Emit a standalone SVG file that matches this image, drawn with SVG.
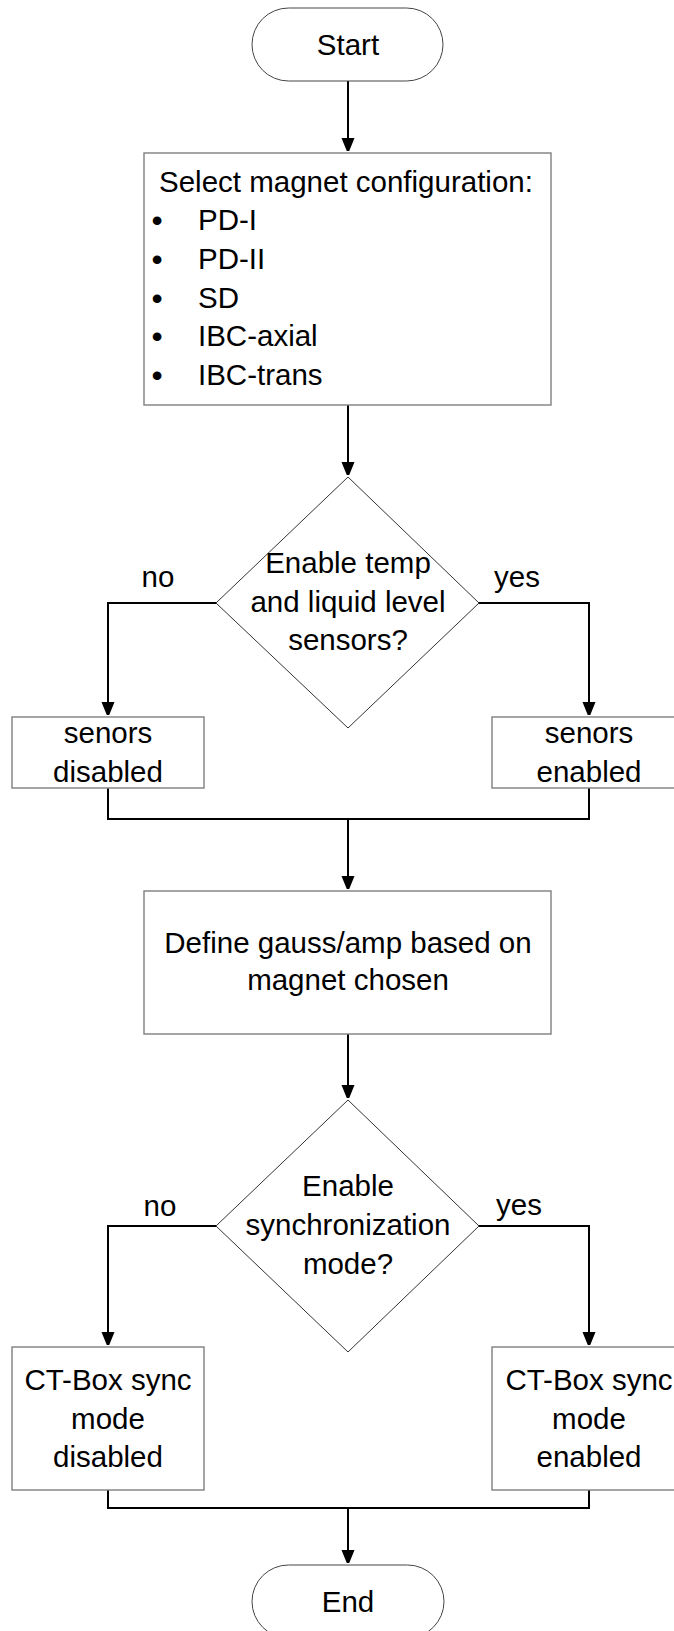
<svg xmlns="http://www.w3.org/2000/svg" width="674" height="1631" viewBox="0 0 674 1631">
<defs>
<marker id="arr" viewBox="0 0 13 16" refX="13" refY="6.5" markerWidth="13" markerHeight="16" markerUnits="userSpaceOnUse" orient="auto">
<path d="M0,0 L16,6.5 L0,13 Z" fill="#000"/>
</marker>
<style>
text{font-family:"Liberation Sans",Arial,sans-serif;font-size:29.5px;fill:#000}
.c{text-anchor:middle}
.b{font-size:32px}
.term{fill:#fff;stroke:#444;stroke-width:1}
.box{fill:#fff;stroke:#7f7f7f;stroke-width:1.4}
.dec{fill:#fff;stroke:#333;stroke-width:1}
.ln{fill:none;stroke:#000;stroke-width:2}
</style>
</defs>
<rect width="674" height="1631" fill="#fff"/>
<g id="connectors">
<path class="ln" d="M348,81 V151" marker-end="url(#arr)"/>
<path class="ln" d="M348,405 V475" marker-end="url(#arr)"/>
<path class="ln" d="M216,603 H108 V715" marker-end="url(#arr)"/>
<path class="ln" d="M479,603 H589 V715" marker-end="url(#arr)"/>
<path class="ln" d="M108,788 V819 H589 V788"/>
<path class="ln" d="M348,819 V889" marker-end="url(#arr)"/>
<path class="ln" d="M348,1034 V1098" marker-end="url(#arr)"/>
<path class="ln" d="M216,1226 H108 V1345" marker-end="url(#arr)"/>
<path class="ln" d="M479,1226 H589 V1345" marker-end="url(#arr)"/>
<path class="ln" d="M108,1490 V1508 H589 V1490"/>
<path class="ln" d="M348,1508 V1563" marker-end="url(#arr)"/>
<text class="c" x="158" y="587">no</text>
<text class="c" x="517" y="587">yes</text>
<text class="c" x="160" y="1216">no</text>
<text class="c" x="519" y="1215">yes</text>
</g>
<g id="start">
<rect class="term" x="252" y="8" width="191" height="73" rx="36.5"/>
<text class="c" x="348" y="55">Start</text>
</g>
<g id="select">
<rect class="box" x="144" y="153" width="407" height="252"/>
<text x="159" y="192">Select magnet configuration:</text>
<text class="c b" x="157" y="231">•</text><text x="198" y="230">PD-I</text>
<text class="c b" x="157" y="270">•</text><text x="198" y="269">PD-II</text>
<text class="c b" x="157" y="309">•</text><text x="198" y="308">SD</text>
<text class="c b" x="157" y="347">•</text><text x="198" y="346">IBC-axial</text>
<text class="c b" x="157" y="386">•</text><text x="198" y="385">IBC-trans</text>
</g>
<g id="decision1">
<polygon class="dec" points="348,477 479,603 348,728 216,603"/>
<text class="c" x="348" y="573">Enable temp</text>
<text class="c" x="348" y="612">and liquid level</text>
<text class="c" x="348" y="650">sensors?</text>
</g>
<g id="sensors-disabled">
<rect class="box" x="12" y="717" width="192" height="71"/>
<text class="c" x="108" y="743">senors</text>
<text class="c" x="108" y="782">disabled</text>
</g>
<g id="sensors-enabled">
<rect class="box" x="492" y="717" width="194" height="71"/>
<text class="c" x="589" y="743">senors</text>
<text class="c" x="589" y="782">enabled</text>
</g>
<g id="define">
<rect class="box" x="144" y="891" width="407" height="143"/>
<text class="c" x="348" y="953">Define gauss/amp based on</text>
<text class="c" x="348" y="990">magnet chosen</text>
</g>
<g id="decision2">
<polygon class="dec" points="348,1100 479,1226 348,1352 216,1226"/>
<text class="c" x="348" y="1196">Enable</text>
<text class="c" x="348" y="1235">synchronization</text>
<text class="c" x="348" y="1274">mode?</text>
</g>
<g id="sync-disabled">
<rect class="box" x="12" y="1347" width="192" height="143"/>
<text class="c" x="108" y="1390">CT-Box sync</text>
<text class="c" x="108" y="1429">mode</text>
<text class="c" x="108" y="1467">disabled</text>
</g>
<g id="sync-enabled">
<rect class="box" x="492" y="1347" width="194" height="143"/>
<text class="c" x="589" y="1390">CT-Box sync</text>
<text class="c" x="589" y="1429">mode</text>
<text class="c" x="589" y="1467">enabled</text>
</g>
<g id="end">
<rect class="term" x="252" y="1565" width="192" height="73" rx="36.5"/>
<text class="c" x="348" y="1612">End</text>
</g>
</svg>
